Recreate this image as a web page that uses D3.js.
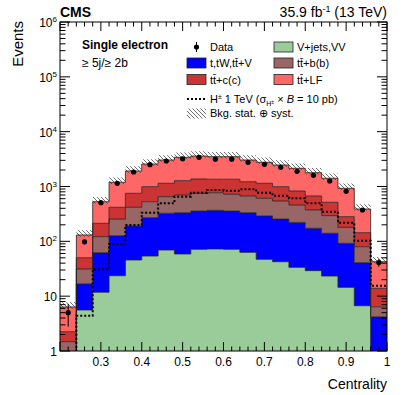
<!DOCTYPE html>
<html><head><meta charset="utf-8">
<script src="https://cdn.jsdelivr.net/npm/d3@7"></script>
<style>body{margin:0;background:#fff} text{font-family:"Liberation Sans",Arial,sans-serif;fill:#000}</style>
</head><body><svg id="c" width="407" height="395"></svg>
<script>
// ---- data ----
const binEdges = [0.20,0.24,0.28,0.32,0.36,0.40,0.44,0.48,0.52,0.56,0.60,0.64,0.68,0.72,0.76,0.80,0.84,0.88,0.92,0.96,1.00];
const vjetsVV = [0.3,5.6,11.8,23.6,45.7,54,69.5,58.8,71.6,72.6,71.6,63,47,42.5,33.6,29.2,23.3,14.5,6.7,0.3];
const singleTop = [0.2,11.1,50.3,103,144,216,256,274,285,295,285,270,243,212,188,144,117,77.5,34.1,3.9];
const ttbb = [0.98,14.6,59.5,128,228,258,327,367,395,403,364,338,319,289,238,200,154,88,39,2.2];
const ttcc = [0.77,18.9,91.4,163,334,464,492,577,619,586,636,553,535,448,368,298,221,102,64,7.5];
const ttLF = [4.1,80.4,315,776,1167,1579,1899,2134,2226,2143,2143,1819,1619,1475,1320,1115,898,645,245,28.6];
const dataCounts = [5,98,507,1144,1840,2500,2920,3200,3411,3150,3150,2763,2541,2239,1893,1600,1260,818,373,41];
const signalHpm = [0.5,4.4,31,89,199,333,494,652,771,863,839,889,771,680,609,494,347,219,103,15.5];
const bkgUncUp = [0.22,0.22,0.22,0.22,0.22,0.22,0.22,0.22,0.22,0.22,0.22,0.22,0.22,0.22,0.22,0.22,0.22,0.22,0.22,0.22];
const bkgUncDown = [0.07,0.07,0.07,0.07,0.07,0.07,0.07,0.07,0.07,0.07,0.07,0.07,0.07,0.07,0.07,0.07,0.07,0.07,0.07,0.07];
const xTickLabels = ["0.3","0.4","0.5","0.6","0.7","0.8","0.9","1"];
const xTickValues = [0.3,0.4,0.5,0.6,0.7,0.8,0.9,1.0];
const yDecades = [1,10,100,1000,10000,100000,1000000];

const layers = [
  {name:"V+jets,VV", vals:vjetsVV, color:"#99cc99"},
  {name:"t,tW,tt+V", vals:singleTop, color:"#0000ff"},
  {name:"tt+b(b)", vals:ttbb, color:"#996666"},
  {name:"tt+c(c)", vals:ttcc, color:"#cc3333"},
  {name:"tt+LF", vals:ttLF, color:"#ff6666"}
];

// ---- layout ----
const X0=60, X1=387, Y0=22, Y1=351;
const svg = d3.select("#c");
const x = d3.scaleLinear().domain([0.2,1.0]).range([X0,X1]);
const y = d3.scaleLog().domain([1,1e6]).range([Y1,Y0]);

const defs = svg.append("defs");
defs.append("clipPath").attr("id","clip").append("rect")
  .attr("x",X0).attr("y",Y0).attr("width",X1-X0).attr("height",Y1-Y0);
const pat = defs.append("pattern").attr("id","hatch").attr("patternUnits","userSpaceOnUse")
  .attr("width",4).attr("height",4);
pat.append("path").attr("d","M0,0L4,4M-1,3L1,5M3,-1L5,1").attr("stroke","#333").attr("stroke-width",0.7);

const g = svg.append("g").attr("clip-path","url(#clip)");
const nb = binEdges.length-1;

// stack
let cum = new Array(nb).fill(0);
const stacked = layers.map(L=>{
  const lo = cum.slice();
  const hi = cum.map((c,i)=>c+L.vals[i]);
  cum = hi;
  return {L, lo, hi};
});
function stepPts(arrLo, arrHi){
  const pts=[];
  for(let i=0;i<nb;i++){
    pts.push({x:binEdges[i], lo:arrLo[i], hi:arrHi[i]});
    pts.push({x:binEdges[i+1], lo:arrLo[i], hi:arrHi[i]});
  }
  return pts;
}
const safe = v => Math.max(v, 1e-3);
const area = d3.area().x(d=>x(d.x)).y0(d=>y(safe(d.lo))).y1(d=>y(safe(d.hi)));
const topLine = d3.line().x(d=>x(d.x)).y(d=>y(safe(d.hi)));
stacked.forEach(s=>{
  const pts = stepPts(s.lo, s.hi);
  g.append("path").attr("d",area(pts)).attr("fill",s.L.color);
});
stacked.forEach(s=>{
  const pts = stepPts(s.lo, s.hi);
  g.append("path").attr("d",topLine(pts)).attr("fill","none").attr("stroke","#222").attr("stroke-width",0.8);
});
// uncertainty band
const total = cum;
const bandPts = stepPts(total.map((t,i)=>t*(1-bkgUncDown[i])), total.map((t,i)=>t*(1+bkgUncUp[i])));
g.append("path").attr("d",area(bandPts)).attr("fill","url(#hatch)");

// signal
const sigPts = stepPts(signalHpm, signalHpm);
g.append("path").attr("d",topLine(sigPts)).attr("fill","none").attr("stroke","#000")
  .attr("stroke-width",2).attr("stroke-dasharray","2,2");

// data
const centers = d3.range(nb).map(i=>(binEdges[i]+binEdges[i+1])/2);
dataCounts.forEach((n,i)=>{
  const e = Math.sqrt(n);
  g.append("line").attr("x1",x(centers[i])).attr("x2",x(centers[i]))
    .attr("y1",y(n+e)).attr("y2",y(Math.max(n-e,0.01))).attr("stroke","#000").attr("stroke-width",1);
  g.append("circle").attr("cx",x(centers[i])).attr("cy",y(n)).attr("r",2.6).attr("fill","#000");
});

// frame
svg.append("rect").attr("x",X0).attr("y",Y0).attr("width",X1-X0).attr("height",Y1-Y0)
  .attr("fill","none").attr("stroke","#000").attr("stroke-width",1);

// x ticks
const ax = svg.append("g").attr("stroke","#000").attr("stroke-width",1);
const minorX = d3.range(0,41).map(k=>0.2+k*0.02);
minorX.forEach(v=>{
  const isMaj = Math.abs(v*10-Math.round(v*10))<1e-6;
  const L = isMaj?9:4.5;
  ax.append("line").attr("x1",x(v)).attr("x2",x(v)).attr("y1",Y1).attr("y2",Y1-L);
  ax.append("line").attr("x1",x(v)).attr("x2",x(v)).attr("y1",Y0).attr("y2",Y0+L);
});
xTickValues.forEach((v,i)=>{
  svg.append("text").attr("x",x(v)).attr("y",366).attr("text-anchor","middle")
    .attr("font-size",12).text(xTickLabels[i]);
});
// y ticks
y.ticks(60).forEach(v=>{
  const lg = Math.log10(v);
  const isMaj = Math.abs(lg-Math.round(lg))<1e-6;
  const L = isMaj?10:5.5;
  ax.append("line").attr("x1",X0).attr("x2",X0+L).attr("y1",y(v)).attr("y2",y(v));
  ax.append("line").attr("x1",X1).attr("x2",X1-L).attr("y1",y(v)).attr("y2",y(v));
});
yDecades.forEach(v=>{
  const p = Math.round(Math.log10(v));
  const t = svg.append("text").attr("x",57).attr("y",y(v)+5).attr("text-anchor","end").attr("font-size",12);
  if(p===0) t.text("1");
  else if(p===1) t.text("10");
  else { t.append("tspan").text("10"); t.append("tspan").attr("font-size",8).attr("dy",-5).text(p); }
});

// axis titles
svg.append("text").attr("x",387).attr("y",389).attr("text-anchor","end").attr("font-size",14).text("Centrality");
svg.append("text").attr("transform","translate(23,21) rotate(-90)").attr("text-anchor","end").attr("font-size",15).text("Events");

// header
svg.append("text").attr("x",60).attr("y",17).attr("font-size",14).attr("font-weight","bold").text("CMS");
const lum = svg.append("text").attr("x",387).attr("y",17).attr("text-anchor","end").attr("font-size",14);
lum.append("tspan").text("35.9 fb");
lum.append("tspan").attr("font-size",9).attr("dy",-5).text("-1");
lum.append("tspan").attr("dy",5).text(" (13 TeV)");

// category labels
svg.append("text").attr("x",82).attr("y",49).attr("font-size",12).attr("font-weight","bold").text("Single electron");
svg.append("text").attr("x",82).attr("y",67).attr("font-size",12).text("\u2265 5j/\u2265 2b");

// legend
const lg = svg.append("g");
function ltext(xp, yc, s){ return lg.append("text").attr("x",xp).attr("y",yc+4).attr("font-size",11).text(s); }
function box(xp, yc, col){ lg.append("rect").attr("x",xp).attr("y",yc-5).attr("width",19).attr("height",10).attr("fill",col).attr("stroke","#222").attr("stroke-width",0.8); }
lg.append("circle").attr("cx",196.5).attr("cy",47).attr("r",2.6).attr("fill","#000");
lg.append("line").attr("x1",196.5).attr("x2",196.5).attr("y1",42).attr("y2",52).attr("stroke","#000");
ltext(210,47,"Data");
box(187,63,layers[1].color); ltext(210,63,"t,tW,tt\u0304+V");
box(187,79.5,layers[3].color); ltext(210,79.5,"tt\u0304+c(c)");
box(274,47,layers[0].color); ltext(297,47,"V+jets,VV");
box(274,63,layers[2].color); ltext(297,63,"tt\u0304+b(b)");
box(274,79.5,layers[4].color); ltext(297,79.5,"tt\u0304+LF");
lg.append("line").attr("x1",187).attr("x2",206).attr("y1",99).attr("y2",99).attr("stroke","#000").attr("stroke-width",2).attr("stroke-dasharray","2,2");
const st = lg.append("text").attr("x",210).attr("y",103).attr("font-size",11);
st.append("tspan").text("H");
st.append("tspan").attr("font-size",7).attr("dy",-4).text("\u00b1");
st.append("tspan").attr("dy",4).text(" 1 TeV (\u03c3");
st.append("tspan").attr("font-size",7).attr("dy",3).text("H");
st.append("tspan").attr("font-size",5).attr("dy",-2).text("\u00b1");
st.append("tspan").attr("dy",-1).text(" \u00d7 ");
st.append("tspan").attr("font-style","italic").text("B");
st.append("tspan").text(" = 10 pb)");
lg.append("rect").attr("x",187).attr("y",108.5).attr("width",19).attr("height",10).attr("fill","url(#hatch)");
ltext(210,113,"Bkg. stat. \u2295 syst.");
</script></body></html>
